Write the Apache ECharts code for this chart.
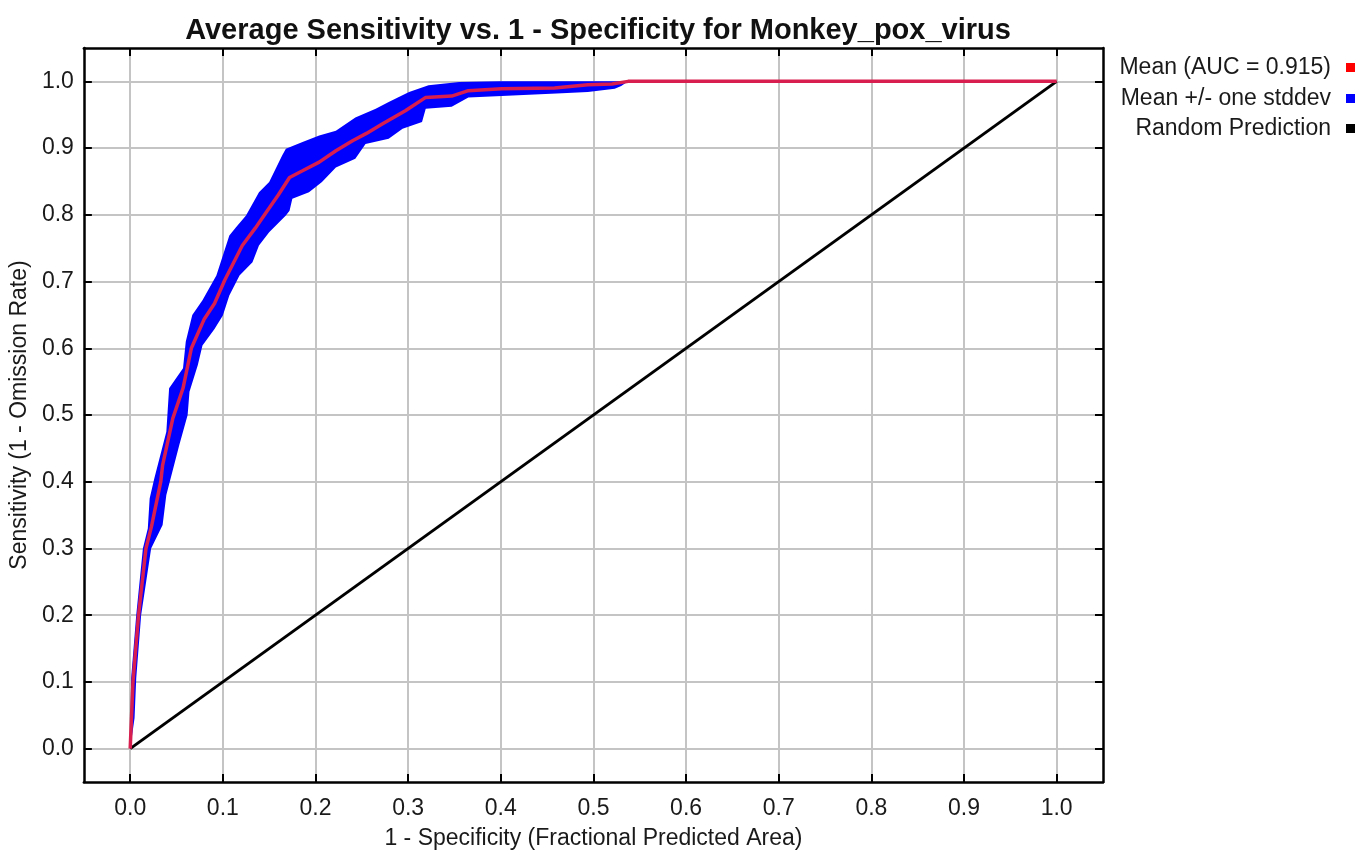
<!DOCTYPE html>
<html>
<head>
<meta charset="utf-8">
<title>Average Sensitivity vs. 1 - Specificity</title>
<script src="https://cdn.jsdelivr.net/npm/echarts@6/dist/echarts.min.js"></script>
<style>
  html, body { margin: 0; padding: 0; background: #fff; }
  #chart { width: 1371px; height: 855px; }
</style>
</head>
<body>
<div id="chart"></div>
<script>
// tick positions and labels, shared by both axes
var tickValues = [0, 0.1, 0.2, 0.3, 0.4, 0.5, 0.6, 0.7, 0.8, 0.9, 1.0];
var tickLabels = ['0.0', '0.1', '0.2', '0.3', '0.4', '0.5', '0.6', '0.7', '0.8', '0.9', '1.0'];

// mean ROC curve (1 - specificity, sensitivity)
var meanX = [0, 0.003, 0.009, 0.017, 0.023, 0.033, 0.035, 0.046, 0.057, 0.066, 0.080, 0.091, 0.102,
  0.121, 0.135, 0.145, 0.160, 0.172, 0.186, 0.204, 0.222, 0.240, 0.255, 0.272, 0.297, 0.319,
  0.347, 0.365, 0.401, 0.458, 0.494, 0.520, 0.5375, 1.0];
var meanY = [0, 0.10, 0.20, 0.30, 0.333, 0.40, 0.425, 0.495, 0.54, 0.60, 0.644, 0.667, 0.702,
  0.754, 0.78, 0.80, 0.83, 0.856, 0.866, 0.879, 0.896, 0.911, 0.922, 0.936, 0.956, 0.976,
  0.978, 0.986, 0.989, 0.990, 0.995, 0.996, 1.0, 1.0];

// upper edge of the +/- one stddev band
var upperX = [0, 0.001, 0.0065, 0.0137, 0.019, 0.021, 0.026, 0.039, 0.042, 0.057, 0.060, 0.067,
  0.078, 0.093, 0.107, 0.114, 0.125, 0.139, 0.150, 0.164, 0.168, 0.186, 0.204, 0.222, 0.243,
  0.265, 0.279, 0.301, 0.322, 0.355, 0.400, 0.5375];
var upperY = [0, 0.105, 0.20, 0.30, 0.33, 0.375, 0.405, 0.475, 0.54, 0.57, 0.61, 0.65,
  0.672, 0.709, 0.769, 0.781, 0.799, 0.834, 0.849, 0.889, 0.899, 0.909, 0.919, 0.926, 0.946,
  0.959, 0.969, 0.984, 0.994, 0.999, 1.0, 1.0];

// lower edge of the band
var lowerX = [0, 0.0047, 0.0065, 0.0118, 0.0226, 0.035, 0.039, 0.053, 0.062, 0.064, 0.073, 0.078,
  0.091, 0.100, 0.107, 0.118, 0.132, 0.139, 0.150, 0.168, 0.172, 0.175, 0.193, 0.207, 0.222,
  0.243, 0.254, 0.279, 0.294, 0.315, 0.319, 0.347, 0.365, 0.401, 0.466, 0.494, 0.523, 0.530, 0.5375];
var lowerY = [0, 0.046, 0.105, 0.20, 0.30, 0.335, 0.38, 0.455, 0.50, 0.535, 0.575, 0.604,
  0.629, 0.649, 0.679, 0.709, 0.729, 0.754, 0.774, 0.799, 0.806, 0.824, 0.834, 0.849, 0.871,
  0.884, 0.906, 0.914, 0.929, 0.939, 0.959, 0.962, 0.976, 0.978, 0.982, 0.984, 0.989, 0.993, 1.0];

// random prediction diagonal
var randomX = [0, 1];
var randomY = [0, 1];

var seriesNames = ['Mean (AUC = 0.915)', 'Mean +/- one stddev', 'Random Prediction'];

function pairs(xs, ys) {
  var out = [];
  for (var i = 0; i < xs.length; i++) {
    out.push([xs[i], ys[i]]);
  }
  return out;
}

var fontFamily = '"Liberation Sans", Arial, sans-serif';
var textColor = '#1a1a1a';

function makeAxis(pos, showLabel, nameText) {
  var ax = {
    type: 'value',
    position: pos,
    min: -0.05,
    max: 1.05,
    axisLine: { show: true, onZero: false, lineStyle: { color: '#000', width: 2.5 } },
    axisTick: {
      show: true, inside: true, length: 8, customValues: tickValues,
      lineStyle: { color: '#000', width: 2 }
    },
    axisLabel: {
      show: showLabel,
      customValues: tickValues,
      color: textColor,
      fontSize: 23,
      fontFamily: fontFamily,
      margin: (pos === 'bottom') ? 15 : 10,
      formatter: function (v) {
        var i = tickValues.indexOf(Math.round(v * 10) / 10);
        return i >= 0 ? tickLabels[i] : '';
      }
    },
    splitLine: { show: showLabel, lineStyle: { color: '#c4c4c4', width: 2 } }
  };
  if (nameText) {
    ax.name = nameText;
    ax.nameLocation = 'middle';
    ax.nameGap = (pos === 'bottom') ? 45 : 41;
    ax.nameTextStyle = { color: textColor, fontSize: 23, fontFamily: fontFamily };
  }
  return ax;
}

function makeLegend(name, top) {
  return {
    data: [{ name: name, icon: 'rect' }],
    orient: 'vertical',
    right: 16,
    top: top,
    align: 'right',
    padding: 0,
    itemWidth: 9,
    itemHeight: 9,
    selectedMode: false,
    textStyle: {
      color: textColor, fontSize: 23, fontFamily: fontFamily,
      padding: [0, 10, 0, 0]
    }
  };
}

var chart = echarts.init(document.getElementById('chart'));

var option = {
  backgroundColor: '#fff',
  animation: false,
  title: {
    text: 'Average Sensitivity vs. 1 - Specificity for Monkey_pox_virus',
    left: 593,
    textAlign: 'center',
    top: 11,
    textStyle: { color: '#111', fontSize: 29, fontWeight: 'bold', fontFamily: fontFamily }
  },
  legend: [
    makeLegend(seriesNames[0], 56),
    makeLegend(seriesNames[1], 87),
    makeLegend(seriesNames[2], 117)
  ],
  grid: { left: 81, top: 48, right: 268, bottom: 71, containLabel: false },
  xAxis: [
    makeAxis('bottom', true, '1 - Specificity (Fractional Predicted Area)'),
    makeAxis('top', false)
  ],
  yAxis: [
    makeAxis('left', true, 'Sensitivity (1 - Omission Rate)'),
    makeAxis('right', false)
  ],
  series: [
    {
      name: seriesNames[1],
      type: 'custom',
      xAxisIndex: 0,
      yAxisIndex: 0,
      silent: true,
      z: 2,
      itemStyle: { color: '#0000ff' },
      data: [[0, 0]],
      renderItem: function (params, api) {
        var pts = [];
        for (var i = 0; i < upperX.length; i++) {
          pts.push(api.coord([upperX[i], upperY[i]]));
        }
        for (var j = lowerX.length - 1; j >= 0; j--) {
          pts.push(api.coord([lowerX[j], lowerY[j]]));
        }
        return {
          type: 'polygon',
          shape: { points: pts },
          style: { fill: '#0000ff' }
        };
      }
    },
    {
      name: seriesNames[2],
      type: 'line',
      z: 3,
      symbol: 'none',
      silent: true,
      color: '#000',
      lineStyle: { color: '#000', width: 3 },
      data: pairs(randomX, randomY)
    },
    {
      name: seriesNames[0],
      type: 'line',
      z: 4,
      symbol: 'none',
      silent: true,
      color: '#ff0000',
      lineStyle: { color: '#d81e4e', width: 3.5 },
      data: pairs(meanX, meanY)
    }
  ]
};

chart.setOption(option);
</script>
</body>
</html>
